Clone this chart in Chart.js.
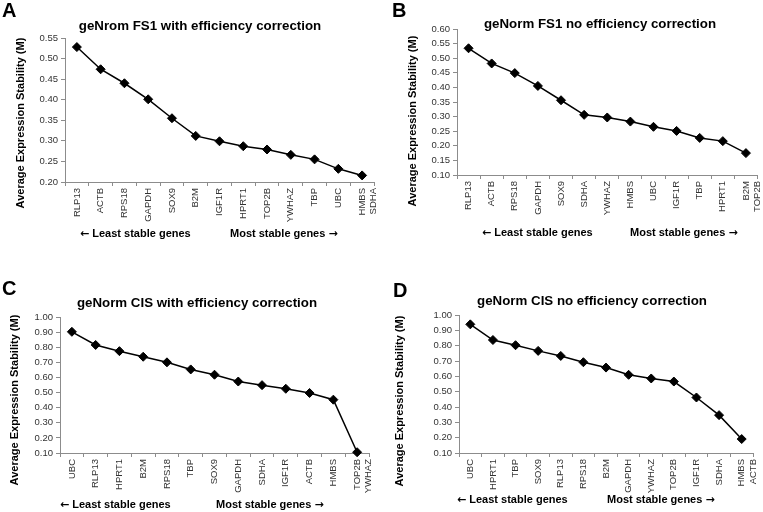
<!DOCTYPE html>
<html>
<head>
<meta charset="utf-8">
<script src="https://cdn.jsdelivr.net/npm/chart.js@4"></script>
<style>
  body { margin: 0; background: #fff; width: 763px; height: 512px; position: relative; overflow: hidden;
         font-family: "Liberation Sans", Arial, sans-serif; }
  canvas { position: absolute; }
  .t { position: absolute; white-space: nowrap; color: #000; font-weight: bold; }
  .letter { font-size: 20px; line-height: 20px; }
  .title { font-size: 13.3px; line-height: 16px; width: 400px; text-align: center; }
  .ytitle { font-size: 11px; line-height: 14px; width: 200px; text-align: center; transform: rotate(-90deg); }
  .foot { font-size: 11px; line-height: 14px; }
  .arr { font-family: "DejaVu Sans", sans-serif; font-weight: bold; font-size: 11px; }
</style>
</head>
<body>
<canvas id="chartA" width="381" height="256" style="left:0;top:0"></canvas>
<canvas id="chartB" width="382" height="256" style="left:381px;top:0"></canvas>
<canvas id="chartC" width="381" height="256" style="left:0;top:256px"></canvas>
<canvas id="chartD" width="382" height="256" style="left:381px;top:256px"></canvas>

<div class="t letter" style="left:2px;top:0">A</div>
<div class="t letter" style="left:392px;top:0">B</div>
<div class="t letter" style="left:2px;top:278px">C</div>
<div class="t letter" style="left:393px;top:280px">D</div>

<div class="t title" style="left:0;top:18px">geNrom FS1 with efficiency correction</div>
<div class="t title" style="left:400px;top:16px">geNorm FS1 no efficiency correction</div>
<div class="t title" style="left:-3px;top:295px">geNorm CIS with efficiency correction</div>
<div class="t title" style="left:392px;top:293px">geNorm CIS no efficiency correction</div>

<div class="t ytitle" style="left:-80px;top:116px">Average Expression Stability (M)</div>
<div class="t ytitle" style="left:312px;top:114px">Average Expression Stability (M)</div>
<div class="t ytitle" style="left:-86px;top:393px">Average Expression Stability (M)</div>
<div class="t ytitle" style="left:299px;top:394px">Average Expression Stability (M)</div>

<div class="t foot" style="left:80px;top:226px"><span class="arr">←</span> Least stable genes</div>
<div class="t foot" style="left:230px;top:226px">Most stable genes <span class="arr">→</span></div>
<div class="t foot" style="left:482px;top:225px"><span class="arr">←</span> Least stable genes</div>
<div class="t foot" style="left:630px;top:225px">Most stable genes <span class="arr">→</span></div>
<div class="t foot" style="left:60px;top:497px"><span class="arr">←</span> Least stable genes</div>
<div class="t foot" style="left:216px;top:497px">Most stable genes <span class="arr">→</span></div>
<div class="t foot" style="left:457px;top:492px"><span class="arr">←</span> Least stable genes</div>
<div class="t foot" style="left:607px;top:492px">Most stable genes <span class="arr">→</span></div>

<script>
// Genes ranked from least to most stable, with their M values
const genesA = ['RLP13', 'ACTB', 'RPS18', 'GAPDH', 'SOX9', 'B2M', 'IGF1R', 'HPRT1', 'TOP2B', 'YWHAZ', 'TBP', 'UBC', ['HMBS', 'SDHA']];
const valuesA = [0.528, 0.474, 0.440, 0.401, 0.355, 0.312, 0.299, 0.287, 0.279, 0.266, 0.255, 0.232, 0.216];

const genesB = ['RLP13', 'ACTB', 'RPS18', 'GAPDH', 'SOX9', 'SDHA', 'YWHAZ', 'HMBS', 'UBC', 'IGF1R', 'TBP', 'HPRT1', ['B2M', 'TOP2B']];
const valuesB = [0.534, 0.482, 0.449, 0.405, 0.356, 0.306, 0.297, 0.283, 0.265, 0.251, 0.227, 0.216, 0.175];

const genesC = ['UBC', 'RLP13', 'HPRT1', 'B2M', 'RPS18', 'TBP', 'SOX9', 'GAPDH', 'SDHA', 'IGF1R', 'ACTB', 'HMBS', ['TOP2B', 'YWHAZ']];
const valuesC = [0.902, 0.815, 0.774, 0.737, 0.700, 0.653, 0.618, 0.573, 0.549, 0.525, 0.497, 0.453, 0.105];

const genesD = ['UBC', 'HPRT1', 'TBP', 'SOX9', 'RLP13', 'RPS18', 'B2M', 'GAPDH', 'YWHAZ', 'TOP2B', 'IGF1R', 'SDHA', ['HMBS', 'ACTB']];
const valuesD = [0.939, 0.837, 0.803, 0.766, 0.733, 0.692, 0.657, 0.610, 0.586, 0.566, 0.462, 0.347, 0.191];

// y axis: min, max, step
const yAxisA = [0.20, 0.55, 0.05];
const yAxisB = [0.10, 0.60, 0.05];
const yAxisC = [0.10, 1.00, 0.10];
const yAxisD = [0.10, 1.00, 0.10];

Chart.defaults.font.family = '"Liberation Sans", Arial, sans-serif';
const axisGray = '#8c8c8c';

// area = plot rectangle inside the canvas
function createChart(canvas, labels, values, yAxis, area) {
  const [min, max, step] = yAxis;
  return new Chart(canvas, {
    type: 'line',
    data: {
      labels: labels,
      datasets: [{
        data: values,
        borderColor: '#000',
        borderWidth: 1.5,
        pointStyle: 'rectRot',
        pointRadius: 4.5,
        pointBackgroundColor: '#000',
        pointBorderColor: '#000',
        pointBorderWidth: 1,
        tension: 0,
        clip: false
      }]
    },
    options: {
      responsive: false,
      animation: false,
      layout: { padding: { left: 0, top: area.top, right: canvas.width - area.right, bottom: 0 } },
      plugins: { legend: { display: false }, tooltip: { enabled: false } },
      scales: {
        x: {
          offset: true,
          grid: { offset: true, drawOnChartArea: false, tickLength: 4, color: axisGray },
          border: { color: axisGray },
          ticks: { autoSkip: false, minRotation: 90, maxRotation: 90, padding: 2, color: '#333', font: { size: 9.5 } },
          afterFit(s) { s.height = canvas.height - area.bottom; s.paddingLeft = 0; s.paddingRight = 0; }
        },
        y: {
          min: min,
          max: max,
          grid: { drawOnChartArea: false, tickLength: 4, color: axisGray },
          border: { color: axisGray },
          ticks: { stepSize: step, padding: 3, color: '#333', font: { size: 9.5 }, callback: v => v.toFixed(2) },
          afterFit(s) { s.width = area.left; s.paddingTop = 0; s.paddingBottom = 0; }
        }
      }
    }
  });
}

createChart(document.getElementById('chartA'), genesA, valuesA, yAxisA, { left: 65, right: 374, top: 38, bottom: 182 });
createChart(document.getElementById('chartB'), genesB, valuesB, yAxisB, { left: 76, right: 379, top: 29, bottom: 175 });
createChart(document.getElementById('chartC'), genesC, valuesC, yAxisC, { left: 60, right: 369, top: 61, bottom: 197 });
createChart(document.getElementById('chartD'), genesD, valuesD, yAxisD, { left: 78, right: 372, top: 59, bottom: 197 });
</script>
</body>
</html>
